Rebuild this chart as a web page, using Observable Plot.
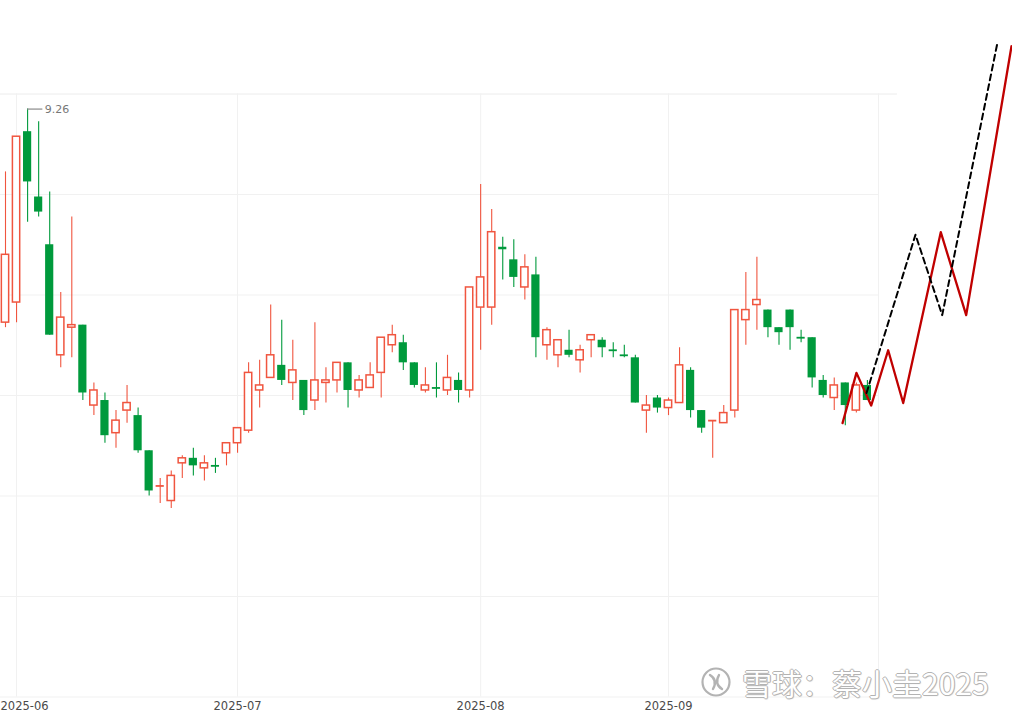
<!DOCTYPE html>
<html>
<head>
<meta charset="utf-8">
<script src="https://cdn.jsdelivr.net/npm/d3@7"></script>
<script src="https://cdn.jsdelivr.net/npm/@observablehq/plot@0.6"></script>
<style>
  html, body { margin: 0; padding: 0; background: #fff; overflow: hidden; }
  #wrap { position: relative; width: 1012px; height: 713px; }
  #wm { position: absolute; left: 700px; top: 664px; display: flex; align-items: center; pointer-events: none; }
  #wm span {
    font-family: "Noto Sans CJK SC", "Noto Sans", sans-serif; font-size: 30px; line-height: 36px;
    color: #fff; margin-left: 10px; letter-spacing: 0px;
    text-shadow: -1px 0 #b3b3b3, 1px 0 #b3b3b3, 0 -1px #b3b3b3, 0 1px #b3b3b3, 1px 1px 1px #c4c4c4;
  }
</style>
</head>
<body>
<div id="wrap"></div>
<script>
// Daily candles (index 0 = last session of May 2025 … index 78 = late Sep 2025)
const open  = [8.41,8.49,9.17,8.91,8.72,8.28,8.39,8.40,8.08,8.10, 7.97,8.06,8.04,7.90,7.76,7.70,7.85,7.87,7.83,7.84,
               7.89,7.93,7.98,8.14,8.19,8.24,8.17,8.18,8.10,8.17, 8.18,8.25,8.14,8.15,8.21,8.32,8.33,8.25,8.14,8.15,
               8.14,8.18,8.14,8.47,8.47,8.71,8.66,8.55,8.60,8.32, 8.28,8.30,8.26,8.34,8.34,8.30,8.28,8.27,8.06,8.11,
               8.07,8.09,8.22,8.06,8.02,8.01,8.06,8.42,8.48,8.46, 8.39,8.46,8.35,8.35,8.18,8.11,8.17,8.06,8.16];
const high  = [9.01,9.15,9.26,9.21,8.93,8.53,8.83,8.40,8.17,8.13, 8.06,8.16,8.07,7.90,7.79,7.82,7.88,7.91,7.88,7.87,
               7.93,7.99,8.25,8.26,8.48,8.42,8.34,8.18,8.41,8.23, 8.25,8.25,8.20,8.25,8.35,8.40,8.36,8.25,8.23,8.25,
               8.28,8.21,8.55,8.96,8.86,8.75,8.74,8.68,8.67,8.39, 8.34,8.38,8.32,8.36,8.35,8.33,8.32,8.28,8.12,8.12,
               8.11,8.31,8.23,8.06,8.02,8.08,8.46,8.61,8.67,8.46, 8.39,8.46,8.38,8.35,8.20,8.19,8.17,8.17,8.18];
const low   = [8.39,8.41,8.81,8.83,8.36,8.23,8.27,8.10,8.04,7.93, 7.91,8.01,7.89,7.72,7.69,7.67,7.79,7.80,7.78,7.81,
               7.84,7.89,7.97,8.07,8.19,8.16,8.10,8.04,8.06,8.09, 8.13,8.07,8.11,8.15,8.11,8.29,8.22,8.15,8.13,8.11,
               8.12,8.09,8.11,8.30,8.40,8.58,8.55,8.50,8.27,8.26, 8.23,8.27,8.21,8.27,8.27,8.27,8.27,8.09,7.97,8.05,
               8.04,8.09,8.03,7.97,7.87,8.01,8.03,8.32,8.38,8.35, 8.32,8.30,8.33,8.15,8.11,8.06,8.00,8.05,8.10];
const close = [8.68,9.15,8.97,8.85,8.36,8.43,8.40,8.13,8.14,7.96, 8.02,8.09,7.90,7.74,7.76,7.80,7.87,7.84,7.85,7.84,
               7.93,7.99,8.21,8.16,8.28,8.18,8.22,8.06,8.18,8.18, 8.25,8.14,8.18,8.20,8.35,8.36,8.25,8.16,8.16,8.15,
               8.19,8.14,8.55,8.59,8.77,8.70,8.59,8.63,8.35,8.38, 8.34,8.28,8.30,8.36,8.31,8.30,8.28,8.09,8.08,8.07,
               8.10,8.24,8.06,7.99,8.02,8.05,8.46,8.46,8.50,8.39, 8.37,8.39,8.35,8.19,8.12,8.16,8.08,8.16,8.10];

// Month tick labels (candle index of first session of each month)
const monthIdx    = [1, 21, 43, 60];
const monthLabels = ["2025-06", "2025-07", "2025-08", "2025-09"];

// Hand-drawn projection paths (bar index, price)
const redPathX   = [75.75, 77.01, 78.34, 79.88, 81.24, 84.64, 86.94, 91.04];
const redPathP   = [8.01, 8.21, 8.08, 8.30, 8.09, 8.77, 8.44, 9.51];
const blackPathX = [77.92, 82.35, 84.77, 89.75];
const blackPathP = [8.13, 8.76, 8.44, 9.52];

// Horizontal grid levels
const gridLevels = [9.32, 8.92, 8.52, 8.12, 7.72, 7.32, 6.92];

const RED = "#f0553f", GREEN = "#009a3c";
const candles = open.map((o, i) => {
  const c = close[i];
  const up = c > o || (c === o && (i === 0 || c >= close[i - 1]));
  return {i, o, h: high[i], l: low[i], c, up, col: up ? RED : GREEN};
});
const redPath = redPathX.map((x, k) => ({x, p: redPathP[k]}));
const blackPath = blackPathX.map((x, k) => ({x, p: blackPathP[k]}));
let maxI = 0; high.forEach((h, i) => { if (h > high[maxI]) maxI = i; });
const maxH = high[maxI];
const ticks = monthIdx.map((x, k) => ({x, label: monthLabels[k]}));
const yBottom = gridLevels[gridLevels.length - 1];

const HW = 0.37, HWR = 0.33;
const xLo = -0.4525, xHi = 91.131, lastEdge = 79;

const chart = Plot.plot({
  width: 1012, height: 713,
  marginLeft: 0, marginRight: 0, marginTop: 0, marginBottom: 16.5,
  style: {fontFamily: "DejaVu Sans, sans-serif", fontSize: "11.5px", color: "#4a4a4a", background: "white", overflow: "visible"},
  x: {type: "linear", domain: [xLo, xHi], axis: null},
  y: {domain: [6.92, 9.69214], axis: null},
  color: {type: "identity"},
  marks: [
    Plot.ruleY(gridLevels.slice(1), {x1: xLo, x2: lastEdge, stroke: "#f1f1f1"}),
    Plot.ruleY(gridLevels.slice(0, 1), {x1: xLo, x2: 80.72, stroke: "#ececec"}),
    Plot.ruleX(monthIdx.concat([lastEdge]), {y1: yBottom, y2: gridLevels[0], stroke: "#f1f1f1"}),
    // month labels: first one pinned to the left edge, the rest centred on their gridline
    Plot.text(ticks.slice(0, 1), {x: xLo, y: yBottom, text: "label", textAnchor: "start", dy: 9, fill: "#4a4a4a"}),
    Plot.text(ticks.slice(1), {x: "x", y: yBottom, text: "label", textAnchor: "middle", dy: 9, fill: "#4a4a4a"}),
    Plot.ruleX(candles, {x: "i", y1: "l", y2: "h", stroke: "col", strokeWidth: 1.1}),
    Plot.rect(candles.filter(d => !d.up && d.o !== d.c),
      {x1: d => d.i - HW, x2: d => d.i + HW, y1: "o", y2: "c", fill: GREEN}),
    Plot.rect(candles.filter(d => d.up && d.o !== d.c),
      {x1: d => d.i - HWR, x2: d => d.i + HWR, y1: "o", y2: "c", fill: "white", stroke: RED, strokeWidth: 1.5}),
    Plot.ruleY(candles.filter(d => d.o === d.c),
      {y: "o", x1: d => d.i - HW, x2: d => d.i + HW, stroke: "col", strokeWidth: 1.8}),
    Plot.ruleY([maxH], {x1: maxI, x2: maxI + 1.38, stroke: "#8a8a8a", strokeWidth: 1.2}),
    Plot.text([maxH], {x: maxI + 1.55, y: d => d, text: d => d.toFixed(2), textAnchor: "start", fill: "#777", fontSize: 11}),
    Plot.line(redPath, {x: "x", y: "p", stroke: "#c00000", strokeWidth: 2.3}),
    Plot.line(blackPath, {x: "x", y: "p", stroke: "#000", strokeWidth: 2, strokeDasharray: "6,4"})
  ]
});
const wrap = document.getElementById("wrap");
wrap.appendChild(chart);

const wm = document.createElement("div");
wm.id = "wm";
wm.innerHTML = `<svg width="32" height="34" viewBox="-16 -17 32 34">
  <circle r="13.5" fill="#fff" stroke="#b3b3b3" stroke-width="2.2"/>
  <path d="M-6,-7 Q2,-2 -3,7 M6,7 Q-2,2 3,-7" fill="none" stroke="#b3b3b3" stroke-width="2.4" stroke-linecap="round"/>
</svg><span>雪球：蔡小圭2025</span>`;
wrap.appendChild(wm);
</script>
</body>
</html>
